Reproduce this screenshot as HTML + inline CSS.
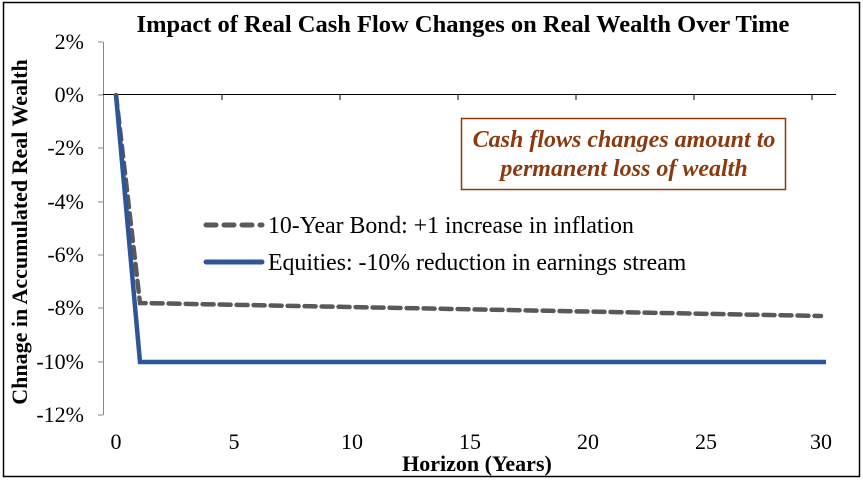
<!DOCTYPE html>
<html><head><style>body{margin:0;background:#fff}</style></head><body>
<svg width="863" height="480" xmlns="http://www.w3.org/2000/svg" style="font-family:'Liberation Serif',serif">
<rect x="0" y="0" width="863" height="480" fill="#fff"/>
<rect x="3.5" y="2.5" width="856" height="474" fill="none" stroke="#000" stroke-width="1.5"/>
<text x="463" y="32" text-anchor="middle" font-size="24.5" font-weight="bold">Impact of Real Cash Flow Changes on Real Wealth Over Time</text>
<g stroke="#888" stroke-width="1">
<line x1="103.5" y1="42" x2="103.5" y2="415"/>
<line x1="98" y1="42" x2="103" y2="42"/><line x1="98" y1="95" x2="103" y2="95"/><line x1="98" y1="148" x2="103" y2="148"/><line x1="98" y1="202" x2="103" y2="202"/><line x1="98" y1="255" x2="103" y2="255"/><line x1="98" y1="308" x2="103" y2="308"/><line x1="98" y1="362" x2="103" y2="362"/><line x1="98" y1="415" x2="103" y2="415"/>
</g>
<g stroke="#000" stroke-width="1">
<line x1="103" y1="94.5" x2="836" y2="94.5"/>
<line x1="222" y1="95" x2="222" y2="100"/><line x1="340" y1="95" x2="340" y2="100"/><line x1="458" y1="95" x2="458" y2="100"/><line x1="576" y1="95" x2="576" y2="100"/><line x1="694" y1="95" x2="694" y2="100"/><line x1="812" y1="95" x2="812" y2="100"/>
</g>
<g font-size="22" text-anchor="end">
<text x="84" y="49">2%</text><text x="84" y="102">0%</text><text x="84" y="155">-2%</text><text x="84" y="209">-4%</text><text x="84" y="262">-6%</text><text x="84" y="315">-8%</text><text x="84" y="369">-10%</text><text x="84" y="422">-12%</text>
</g>
<g font-size="22" text-anchor="middle">
<text x="116" y="449">0</text><text x="234" y="449">5</text><text x="352" y="449">10</text><text x="470" y="449">15</text><text x="588" y="449">20</text><text x="706" y="449">25</text><text x="821" y="449">30</text>
</g>
<text x="477" y="471" text-anchor="middle" font-size="22" font-weight="bold">Horizon (Years)</text>
<text transform="translate(27,232) rotate(-90)" text-anchor="middle" font-size="22" font-weight="bold">Chnage in Accumulated Real Wealth</text>
<polyline points="116,95 140,303 821,316" fill="none" stroke="#595959" stroke-width="4.5" stroke-dasharray="11,6" stroke-linecap="round"/>
<polyline points="116,95 140,362 826,362" fill="none" stroke="#2f5597" stroke-width="4.5"/>
<rect x="461.5" y="118.5" width="324" height="71" fill="#fff" stroke="#8b3a0f" stroke-width="1.5"/>
<g font-size="24" font-weight="bold" font-style="italic" fill="#8b3a0f" text-anchor="middle">
<text x="624" y="147">Cash flows changes amount to</text><text x="624" y="176">permanent loss of wealth</text>
</g>
<line x1="206" y1="225" x2="262" y2="225" stroke="#595959" stroke-width="5" stroke-dasharray="10,8" stroke-linecap="round"/>
<line x1="206" y1="262" x2="262" y2="262" stroke="#2f5597" stroke-width="5" stroke-linecap="round"/>
<g font-size="23.8"><text x="268" y="233">10-Year Bond: +1 increase in inflation</text><text x="268" y="270">Equities: -10% reduction in earnings stream</text></g>
</svg>
</body></html>
